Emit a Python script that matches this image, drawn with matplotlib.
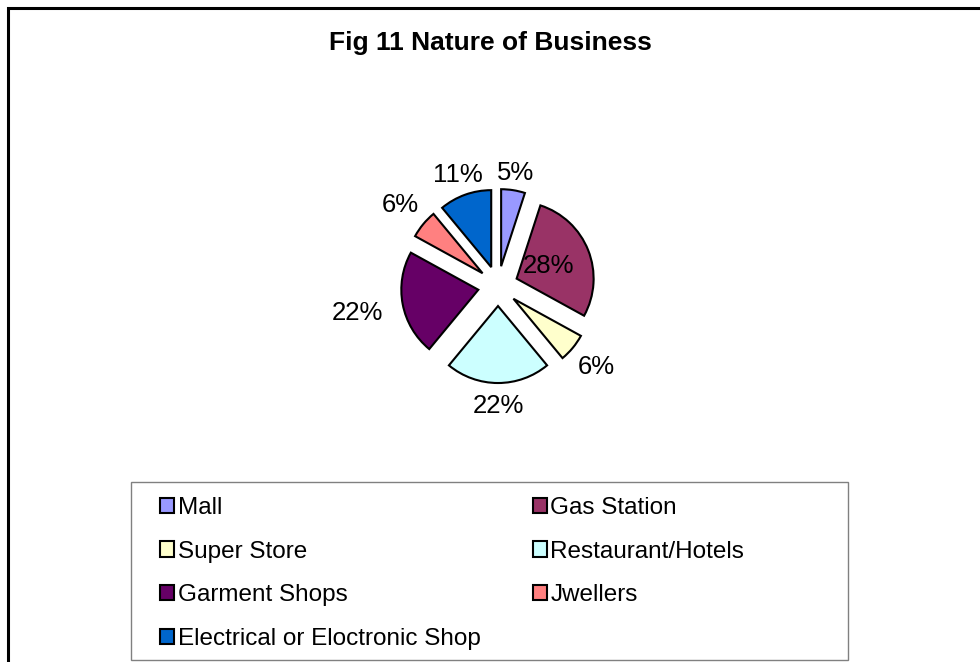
import matplotlib
matplotlib.use("Agg")
import numpy as np
import matplotlib.pyplot as plt
from matplotlib.patches import Patch, Rectangle

plt.rcParams['font.family'] = ['Liberation Sans', 'DejaVu Sans']

# Data
categories = ["Mall", "Gas Station", "Super Store", "Restaurant/Hotels",
              "Garment Shops", "Jwellers", "Electrical or Eloctronic Shop"]
shares = [5, 28, 6, 22, 22, 6, 11]
colors = ["#9999FF", "#993366", "#FFFFCC", "#CCFFFF",
          "#660066", "#FF8080", "#0066CC"]
title = "Fig 11 Nature of Business"

# Layout (pixels in a 980x662 canvas)
W, H = 980, 662
cx, cy, R = 498, 286, 77
explode_frac = 0.26
# radial position of each percentage label, in pie radii from the centre
label_r = [1.49, 0.70, 1.66, 1.56, 1.86, 1.65, 1.53]

fig = plt.figure(figsize=(W / 100, H / 100), dpi=100)
fig.patch.set_facecolor("white")

# outer chart-area border (runs off the right and bottom edges)
fig.patches.append(Rectangle((7.5 / W, -0.1), 1.2, 1 - 7.5 / H + 0.1,
                             transform=fig.transFigure, fill=False,
                             edgecolor="black", linewidth=2.2))

# pie axes: one data unit == one pie radius
ax = fig.add_axes([0, 0, 1, 1])
ax.axis("off")

wedges, _ = ax.pie(shares, colors=colors, startangle=90, counterclock=False,
                   explode=[explode_frac] * len(shares), radius=1.0,
                   center=(0, 0),
                   wedgeprops=dict(edgecolor="black", linewidth=1.5))
ax.set_aspect("auto")
ax.set_xlim(-cx / R, (W - cx) / R)
ax.set_ylim(-(H - cy) / R, cy / R)

total = float(sum(shares))
for w, v, d in zip(wedges, shares, label_r):
    th = np.deg2rad((w.theta1 + w.theta2) / 2)
    ax.text(d * np.cos(th), d * np.sin(th), f"{v / total * 100:.0f}%",
            ha="center", va="center", fontsize=18.5, color="black")

fig.text(490 / W, 1 - 43 / H, title, ha="center", va="center",
         fontsize=19, fontweight="bold")

# legend box
fig.patches.append(Rectangle((131 / W, 1 - 660 / H), (848 - 131) / W,
                             (660 - 482) / H, transform=fig.transFigure,
                             fill=False, edgecolor="#808080", linewidth=1.0))

handles = [Patch(facecolor=c, edgecolor="black", linewidth=1.5, label=l)
           for c, l in zip(colors, categories)]
order = [0, 2, 4, 6, 1, 3, 5]
leg = fig.legend([handles[i] for i in order], [categories[i] for i in order],
                 ncol=2, loc="upper left",
                 bbox_to_anchor=(160 / W, 1 - 497 / H),
                 frameon=False, fontsize=17.5, borderpad=0, borderaxespad=0,
                 handlelength=0.58, handleheight=0.58, handletextpad=0.15,
                 labelspacing=0.89, columnspacing=2.14)

fig.savefig("out.png", dpi=100, facecolor="white")
